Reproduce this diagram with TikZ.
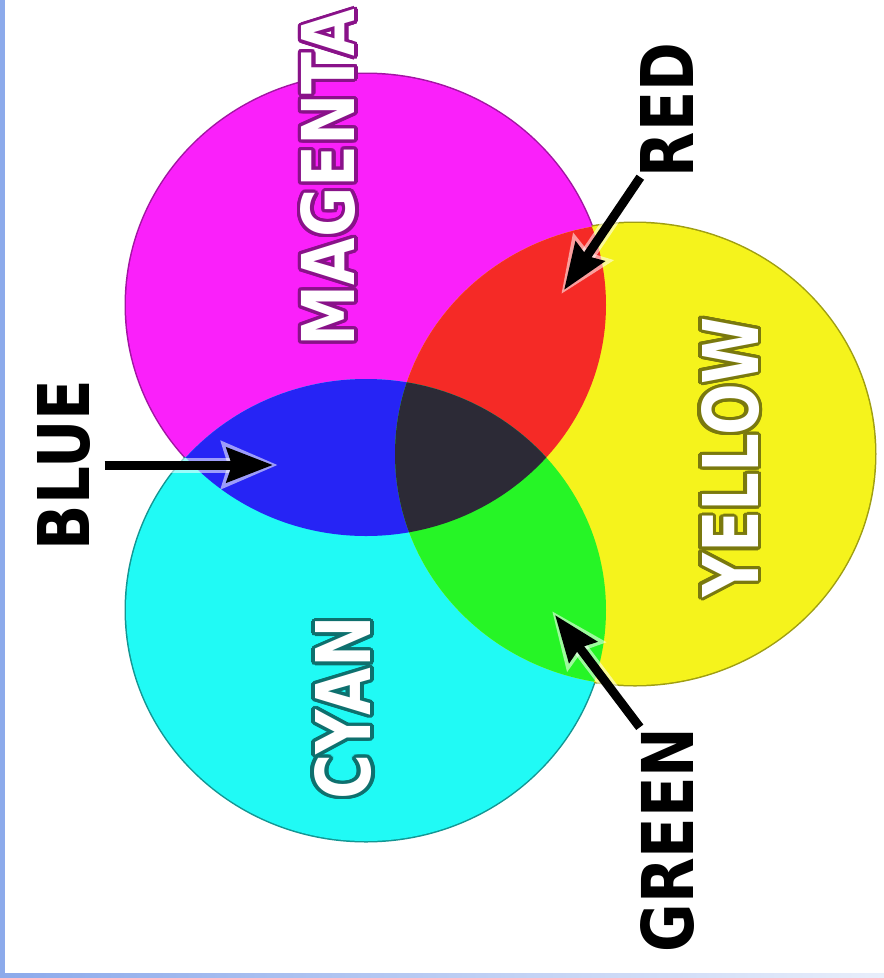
\documentclass[tikz,border=0pt]{standalone}
\usepackage{fontspec}
\setmainfont{DejaVu Sans}
\usepackage{graphicx}
\usepackage[copies]{contour}
\contourlength{0.5pt}
\contournumber{24}
\usetikzlibrary{arrows.meta}
\definecolor{cmag}{RGB}{250,32,250}
\definecolor{ccya}{RGB}{32,250,245}
\definecolor{cyel}{RGB}{245,243,28}
\definecolor{cred}{RGB}{245,42,38}
\definecolor{cgrn}{RGB}{38,245,38}
\definecolor{cblu}{RGB}{38,36,245}
\definecolor{cblk}{RGB}{44,42,54}
\definecolor{edgeblue}{RGB}{140,170,235}
% label text squeezed to a given length and letter height
\newcommand{\inktext}[3]{\resizebox{#1}{#2}{\bfseries #3}}
\newcommand{\rimtext}[4]{\resizebox{#1}{#2}{\bfseries\contour{#3}{#4}}}
% the three discs
\newcommand{\magpath}{(366,305) ellipse [x radius=240pt,y radius=231pt]}
\newcommand{\cyapath}{(366,610) ellipse [x radius=240pt,y radius=231pt]}
\newcommand{\yelpath}{(635,454) ellipse [x radius=240pt,y radius=231pt]}

\begin{document}
\begin{tikzpicture}[x=1pt,y=-1pt,
  inklbl/.style={rotate=90,inner sep=0pt,text=black},
  rimlbl/.style={rotate=90,inner sep=0pt,text=white},
  rim/.style={line width=3pt},
  ptr/.style={-{Stealth[length=46pt,width=34pt,inset=5pt]},line width=9pt,black},
  halo/.style={-{Stealth[length=56pt,width=46pt,inset=6pt]},line width=15pt,white,opacity=0.55,shorten >=-5pt}]
\useasboundingbox (0,0) rectangle (884,978);
\fill[white] (0,0) rectangle (884,978);
\fill[edgeblue] (0,0) rectangle (5,978);
\shade[left color=edgeblue,right color=edgeblue!20] (0,973) rectangle (884,978);

% rims first, the fills cover their inner halves
\draw[rim,cmag!65!black] \magpath;
\draw[rim,ccya!60!black] \cyapath;
\draw[rim,cyel!65!black] \yelpath;
\fill[cmag] \magpath;
\fill[ccya] \cyapath;
\fill[cyel] \yelpath;
\begin{scope}
  \clip \magpath;
  \fill[cred] \yelpath;
  \fill[cblu] \cyapath;
\end{scope}
\begin{scope}
  \clip \cyapath;
  \fill[cgrn] \yelpath;
\end{scope}
\begin{scope}
  \clip \magpath;
  \clip \cyapath;
  \fill[cblk] \yelpath;
\end{scope}

% labels
\node[rimlbl] (magenta) at (330,178) {\rimtext{337pt}{54pt}{cmag!55!black}{MAGENTA}};
\node[rimlbl] (yellow)  at (732,457) {\rimtext{280pt}{57pt}{cyel!50!black}{YELLOW}};
\node[rimlbl] (cyan)    at (345,708) {\rimtext{183pt}{56pt}{ccya!45!black}{CYAN}};
\node[inklbl] (blue)  at (64,465)  {\inktext{170pt}{52pt}{BLUE}};
\node[inklbl] (red)   at (667,110) {\inktext{134pt}{53pt}{RED}};
\node[inklbl] (green) at (667,840) {\inktext{225pt}{53pt}{GREEN}};

% pointers
\coordinate (bluetip)  at (273,465);
\coordinate (redtip)   at (564,290);
\coordinate (greentip) at (555,615);
\draw[halo,shorten <=14pt] (blue.south) -- (bluetip);
\draw[halo] (red.north west) -- (redtip);
\draw[halo] (green.north east) -- (greentip);
\draw[ptr,shorten <=14pt] (blue.south) -- (bluetip);
\draw[ptr] (red.north west) -- (redtip);
\draw[ptr] (green.north east) -- (greentip);
\end{tikzpicture}
\end{document}
